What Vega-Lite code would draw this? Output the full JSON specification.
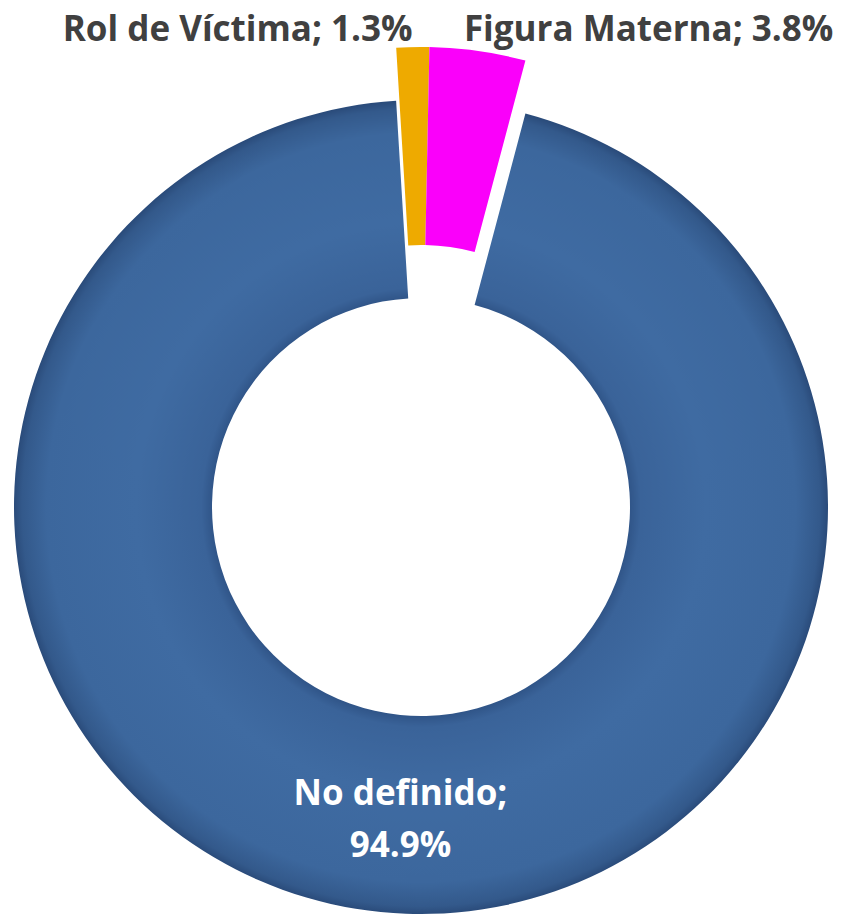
{
  "$schema": "https://vega.github.io/schema/vega-lite/v6.json",
  "width": 842,
  "height": 914,
  "autosize": {"type": "fit", "contains": "padding"},
  "padding": 0,
  "background": "white",
  "config": {"view": {"stroke": null}},
  "data": {
    "values": [
      {"categoria": "Rol de Víctima", "pct": 1.3},
      {"categoria": "Figura Materna", "pct": 3.8},
      {"categoria": "No definido", "pct": 94.9}
    ]
  },
  "transform": [
    {"stack": "pct", "groupby": [], "sort": [{"field": "pct", "order": "ascending"}], "as": ["p0", "p1"]},
    {"calculate": "(datum.p0 + datum.p1) / 2", "as": "pmid"},
    {"calculate": "datum.categoria + '; ' + format(datum.pct, '.1f') + '%'", "as": "etiqueta"},
    {"calculate": "[datum.categoria + ';', format(datum.pct, '.1f') + '%']", "as": "etiqueta2"}
  ],
  "layer": [
    {
      "transform": [{"filter": "datum.categoria === 'No definido'"}],
      "mark": {
        "type": "arc",
        "innerRadius": 209,
        "outerRadius": 407,
        "yOffset": 50,
        "fill": {
          "gradient": "radial",
          "x1": 0.5, "y1": 0.5, "r1": 0,
          "x2": 0.5, "y2": 0.5, "r2": 0.5,
          "stops": [
            {"offset": 0, "color": "#2B4E80"},
            {"offset": 0.5, "color": "#2B4E80"},
            {"offset": 0.54, "color": "#3A6399"},
            {"offset": 0.7, "color": "#3F6BA2"},
            {"offset": 0.92, "color": "#3C679D"},
            {"offset": 0.98, "color": "#33598B"},
            {"offset": 1, "color": "#2A4B7A"}
          ]
        }
      },
      "encoding": {
        "theta": {"field": "p0", "type": "quantitative", "scale": {"domain": [0, 100], "range": [-0.061, 6.222]}},
        "theta2": {"field": "p1"}
      }
    },
    {
      "transform": [{"filter": "datum.categoria !== 'No definido'"}],
      "mark": {"type": "arc", "innerRadius": 209, "outerRadius": 407, "yOffset": -3},
      "encoding": {
        "theta": {"field": "p0", "type": "quantitative", "scale": {"domain": [0, 100], "range": [-0.061, 6.222]}},
        "theta2": {"field": "p1"},
        "color": {
          "field": "categoria",
          "type": "nominal",
          "scale": {"domain": ["Rol de Víctima", "Figura Materna"], "range": ["#EEAA00", "#FA00FA"]},
          "legend": null
        }
      }
    },
    {
      "transform": [{"filter": "datum.categoria === 'Rol de Víctima'"}],
      "mark": {"type": "text", "radius": 418, "align": "right", "baseline": "alphabetic", "dx": 0, "dy": 2, "font": "Open Sans", "fontWeight": "bold", "fontSize": 35, "color": "#404040"},
      "encoding": {
        "theta": {"field": "pmid", "type": "quantitative", "scale": {"domain": [0, 100], "range": [-0.061, 6.222]}},
        "text": {"field": "etiqueta"}
      }
    },
    {
      "transform": [{"filter": "datum.categoria === 'Figura Materna'"}],
      "mark": {"type": "text", "radius": 422, "align": "left", "baseline": "alphabetic", "dx": -16, "dy": 2, "font": "Open Sans", "fontWeight": "bold", "fontSize": 35, "color": "#404040"},
      "encoding": {
        "theta": {"field": "pmid", "type": "quantitative", "scale": {"domain": [0, 100], "range": [-0.061, 6.222]}},
        "text": {"field": "etiqueta"}
      }
    },
    {
      "transform": [{"filter": "datum.categoria === 'No definido'"}],
      "mark": {"type": "text", "radius": 309, "align": "center", "baseline": "alphabetic", "dx": 10, "dy": 41, "lineHeight": 52, "font": "Open Sans", "fontWeight": "bold", "fontSize": 35, "color": "white"},
      "encoding": {
        "theta": {"field": "pmid", "type": "quantitative", "scale": {"domain": [0, 100], "range": [-0.061, 6.222]}},
        "text": {"field": "etiqueta2"}
      }
    }
  ]
}
